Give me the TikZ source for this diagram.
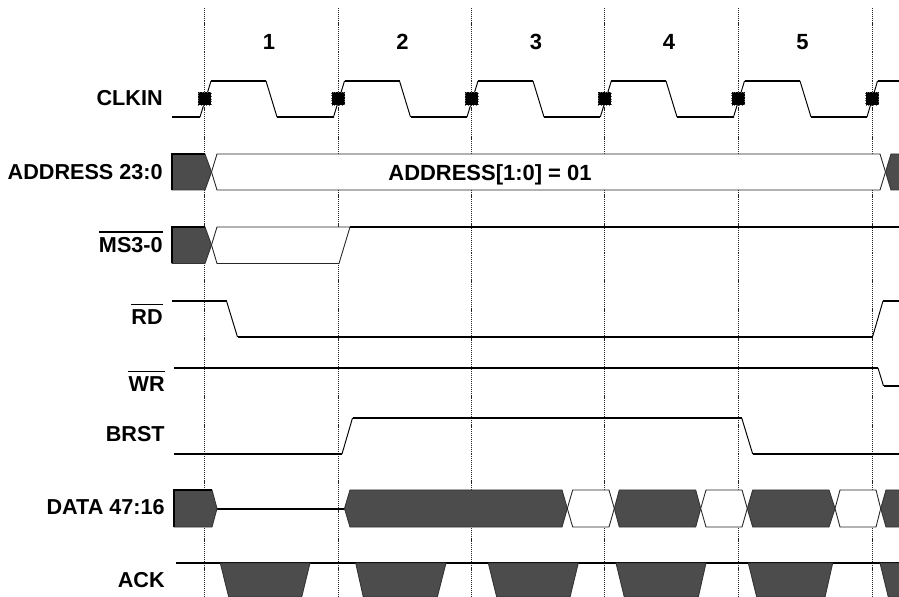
\documentclass[tikz,border=0pt]{standalone}
\usepackage{fontspec}
\setmainfont{Liberation Sans}

\begin{document}
\begin{tikzpicture}[x=0.02cm,y=-0.02cm]
		\tikzset{sigline/.style={line width=0.9pt,black}};
		\tikzset{slopeline/.style={line width=0.55pt,black}};
		\tikzset{cycleline/.style={line width=0.55pt,black!85,dash pattern=on 0.6pt off 0.5pt}};
		\tikzset{busdark/.style={fill=black!70,draw=black!80,line width=0.5pt}};
		\tikzset{buslight/.style={fill=white,draw=black!85,line width=0.5pt}};
		\tikzset{clkmark/.style={fill=black,draw=black!60,densely dotted,line width=0.5pt,inner sep=0pt,minimum size=0.26cm}};
		\tikzset{siglabel/.style={inner sep=0pt,anchor=east,font=\fontsize{12.3}{14}\selectfont\bfseries}};
		\tikzset{cyclelabel/.style={inner sep=0pt,font=\fontsize{12.5}{14}\selectfont\bfseries}};
		\tikzset{barline/.style={line width=0.7pt,black}};
		\useasboundingbox (0,0) rectangle (899,597);
		\fill[white] (0,0) rectangle (899,597);
		
		\draw[cycleline] (204.5,8) -- (204.5,597);
		\draw[cycleline] (338,8) -- (338,597);
		\draw[cycleline] (471.5,8) -- (471.5,597);
		\draw[cycleline] (604.8,8) -- (604.8,597);
		\draw[cycleline] (738,8) -- (738,597);
		\draw[cycleline] (872,8) -- (872,597);
		
		\node[cyclelabel] (one) at (269,42) {1};
		\node[cyclelabel] (two) at (402.5,42) {2};
		\node[cyclelabel] (three) at (536,42) {3};
		\node[cyclelabel] (four) at (669,42) {4};
		\node[cyclelabel] (five) at (802.5,42) {5};
		
		\node[siglabel] (clkin) at (163,98) {CLKIN};
		\node[siglabel] (address) at (163,172) {ADDRESS 23:0};
		\node[siglabel] (ms) at (163,245.5) {MS3-0};
		\node[siglabel] (rd) at (163,317.5) {RD};
		\node[siglabel] (wr) at (165,384.5) {WR};
		\node[siglabel] (brst) at (165,434) {BRST};
		\node[siglabel] (data) at (165,507.5) {DATA 47:16};
		\node[siglabel] (ack) at (165,580) {ACK};
		\draw[barline] ([yshift=0.11cm]ms.north west) -- ([yshift=0.11cm]ms.north east);
		\draw[barline] ([yshift=0.11cm]rd.north west) -- ([yshift=0.11cm]rd.north east);
		\draw[barline] ([yshift=0.11cm]wr.north west) -- ([yshift=0.11cm]wr.north east);
		
		\draw[sigline] (172,117) -- (200,117) (211,81) -- (266,81) (277,117) -- (333.5,117) (344.5,81) -- (399.5,81) (410.5,117) -- (467,117) (478,81) -- (533,81) (544,117) -- (600.3,117) (611.3,81) -- (666,81) (677,117) -- (733.5,117) (744.5,81) -- (800,81) (811,117) -- (867,117) (877.5,81) -- (899,81);
		\draw[slopeline] (200,117) -- (211,81) (266,81) -- (277,117) (333.5,117) -- (344.5,81) (399.5,81) -- (410.5,117) (467,117) -- (478,81) (533,81) -- (544,117) (600.3,117) -- (611.3,81) (666,81) -- (677,117) (733.5,117) -- (744.5,81) (800,81) -- (811,117) (867,117) -- (877.5,81);
		\node[clkmark] (edgea) at (204.5,98.5) {};
		\node[clkmark] (edgeb) at (338,98.5) {};
		\node[clkmark] (edgec) at (471.5,98.5) {};
		\node[clkmark] (edged) at (604.8,98.5) {};
		\node[clkmark] (edgee) at (738,98.5) {};
		\node[clkmark] (edgef) at (872,98.5) {};
		
		\draw[buslight] (211.5,172) -- (217,154) -- (880,154) -- (885.5,172) -- (880,190) -- (217,190) -- cycle;
		\draw[busdark] (172,154) -- (205,154) -- (211.5,172) -- (205,190) -- (172,190) -- cycle;
		\draw[sigline] (172,190) -- (172,154) -- (205,154);
		\draw[busdark] (899,154) -- (891,154) -- (885.5,172) -- (891,190) -- (899,190);
		\node[cyclelabel] (addrval) at (490,175) {ADDRESS[1:0] = 01};
		
		\draw[buslight] (211.5,245) -- (217,227) -- (350,227) -- (339,263.5) -- (217,263.5) -- cycle;
		\draw[busdark] (172,227) -- (205,227) -- (211.5,245) -- (205,263.5) -- (172,263.5) -- cycle;
		\draw[sigline] (172,263.5) -- (172,227) -- (205,227);
		\draw[sigline] (350,227) -- (899,227);
		
		\draw[sigline] (172,301) -- (226.5,301) (237.5,337) -- (872.5,337) (883,301) -- (899,301);
		\draw[slopeline] (226.5,301) -- (237.5,337) (872.5,337) -- (883,301);
		
		\draw[sigline] (174,368) -- (878,368) (883.5,386) -- (899,386);
		\draw[slopeline] (878,368) -- (883.5,386);
		
		\draw[sigline] (174,454) -- (342,454) (352.5,418) -- (741.7,418) (752.7,454) -- (899,454);
		\draw[slopeline] (342,454) -- (352.5,418) (741.7,418) -- (752.7,454);
		
		\draw[sigline] (217,509) -- (344.5,509);
		\draw[busdark] (174,490) -- (212,490) -- (217,508.5) -- (212,527) -- (174,527) -- cycle;
		\draw[sigline] (174,527) -- (174,490) -- (212,490);
		\draw[busdark] (344.5,508.5) -- (350,490) -- (562,490) -- (567.3,508.5) -- (562,527) -- (350,527) -- cycle;
		\draw[buslight] (567.3,508.5) -- (572.7,490) -- (609,490) -- (614.3,508.5) -- (609,527) -- (572.7,527) -- cycle;
		\draw[busdark] (614.3,508.5) -- (619.3,490) -- (695.7,490) -- (700.7,508.5) -- (695.7,527) -- (619.3,527) -- cycle;
		\draw[buslight] (700.7,508.5) -- (706,490) -- (742,490) -- (747.3,508.5) -- (742,527) -- (706,527) -- cycle;
		\draw[busdark] (747.3,508.5) -- (752.7,490) -- (829,490) -- (835,508.5) -- (829,527) -- (752.7,527) -- cycle;
		\draw[buslight] (835,508.5) -- (840,490) -- (876,490) -- (880.7,508.5) -- (876,527) -- (840,527) -- cycle;
		\draw[busdark] (899,490) -- (886,490) -- (880.7,508.5) -- (886,527) -- (899,527);
		
		\draw[sigline] (175.5,563) -- (899,563);
		\draw[busdark] (220.3,563) -- (228.7,597) -- (301.7,597) -- (310,563) -- cycle;
		\draw[busdark] (355.7,563) -- (363.3,597) -- (437.3,597) -- (446,563) -- cycle;
		\draw[busdark] (488.3,563) -- (496.7,597) -- (570,597) -- (578.3,563) -- cycle;
		\draw[busdark] (616,563) -- (624.3,597) -- (698.3,597) -- (706,563) -- cycle;
		\draw[busdark] (748.3,563) -- (756.7,597) -- (825,597) -- (832.7,563) -- cycle;
		\draw[busdark] (899,563) -- (880,563) -- (888.3,597) -- (899,597);
	\end{tikzpicture}
\end{document}
